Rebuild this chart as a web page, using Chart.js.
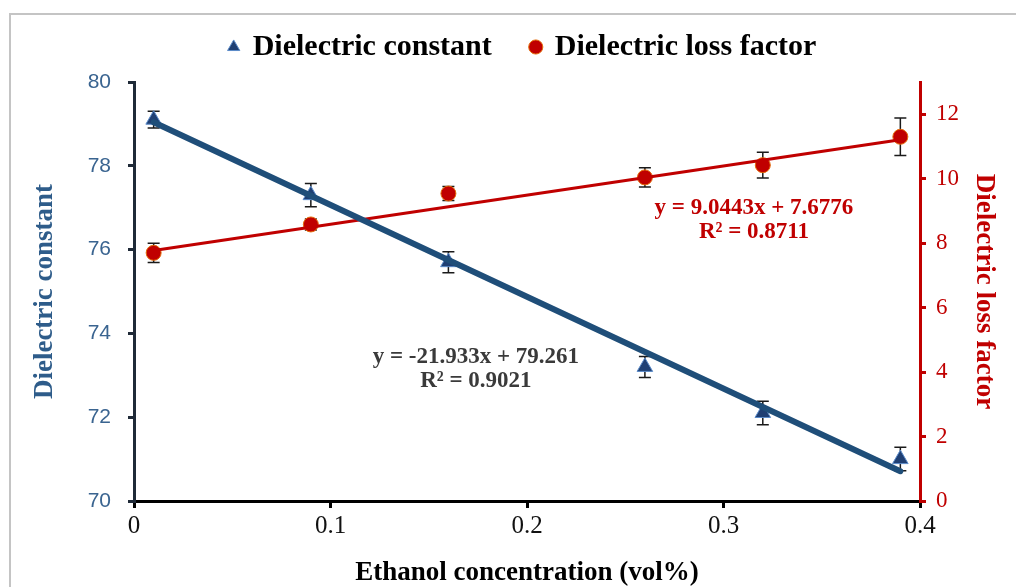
<!DOCTYPE html>
<html><head><meta charset="utf-8">
<script src="https://cdn.jsdelivr.net/npm/chart.js@4.4.1/dist/chart.umd.min.js"></script>
<style>
html,body{margin:0;padding:0;background:#fff;overflow:hidden;}
#wrap{position:relative;width:1016px;height:587px;overflow:hidden;}
#frame{position:absolute;left:9px;top:13px;width:1100px;height:700px;border:2px solid #c4c4c4;pointer-events:none;box-sizing:border-box;}
canvas{position:absolute;left:0;top:0;}
</style></head>
<body><div id="wrap"><canvas id="c" width="1016" height="587"></canvas><div id="frame"></div></div>
<script>
const concentration = [0.01, 0.09, 0.16, 0.26, 0.32, 0.39];
const dielectricConstant = [79.1, 77.3, 75.7, 73.2, 72.1, 71.0];
const dielectricConstantErr = [0.2, 0.28, 0.25, 0.25, 0.28, 0.28];
const lossFactor = [7.7, 8.58, 9.54, 10.04, 10.42, 11.3];
const lossFactorErr = [0.3, 0.17, 0.22, 0.3, 0.4, 0.58];
const trendX = [0.01, 0.39];
const constantTrend = [79.04, 70.71];
const lossTrend = [7.77, 11.21];
const xTicks = [0, 0.1, 0.2, 0.3, 0.4];
const leftTicks = [70, 72, 74, 76, 78, 80];
const rightTicks = [0, 2, 4, 6, 8, 10, 12];
const seriesNames = ['Dielectric constant', 'Dielectric loss factor'];
const constantEquation = ['y = -21.933x + 79.261', 'R\u00b2 = 0.9021'];
const lossEquation = ['y = 9.0443x + 7.6776', 'R\u00b2 = 0.8711'];
const axisTitles = ['Ethanol concentration (vol%)', 'Dielectric constant', 'Dielectric loss factor'];

const BLUE = '#1F4E79', RED = '#C00000';
const SERIF = "'Liberation Serif', 'Times New Roman', serif";
const SANS = "'Liberation Sans', Arial, sans-serif";
const pts = (xs, ys) => xs.map((x, i) => ({x: x, y: ys[i]}));

const errorBars = {
  id: 'errorBars',
  beforeDatasetsDraw(chart) {
    const c = chart.ctx, xs = chart.scales.x;
    chart.data.datasets.forEach(ds => {
      if (!ds.errors) return;
      const ys = chart.scales[ds.yAxisID];
      c.save();
      c.strokeStyle = '#1a1a1a';
      c.lineWidth = 1.5;
      ds.data.forEach((p, j) => {
        const x = xs.getPixelForValue(p.x);
        const y1 = ys.getPixelForValue(p.y + ds.errors[j]);
        const y2 = ys.getPixelForValue(p.y - ds.errors[j]);
        c.beginPath();
        c.moveTo(x, y1); c.lineTo(x, y2);
        c.moveTo(x - 6, y1); c.lineTo(x + 6, y1);
        c.moveTo(x - 6, y2); c.lineTo(x + 6, y2);
        c.stroke();
      });
      c.restore();
    });
  }
};

const equations = {
  id: 'equations',
  afterDatasetsDraw(chart) {
    const c = chart.ctx, xs = chart.scales.x, ys = chart.scales.y;
    const drawEq = (lines, xv, yv, color) => {
      const x = xs.getPixelForValue(xv), y = ys.getPixelForValue(yv);
      c.save();
      c.font = "bold 23px " + SERIF;
      c.fillStyle = color;
      c.textAlign = 'center';
      c.textBaseline = 'middle';
      c.fillText(lines[0], x, y);
      c.fillText(lines[1], x, y + 24);
      c.restore();
    };
    drawEq(constantEquation, 0.174, 73.43, '#3a3a3a');
    drawEq(lossEquation, 0.3155, 76.98, RED);
  }
};

const legendShift = {
  id: 'legendShift',
  afterLayout(chart) {
    const lg = chart.legend;
    if (lg) { lg.left += 15; lg.right += 15; lg.top -= 10; lg.bottom -= 10; }
  }
};

new Chart(document.getElementById('c'), {
  type: 'scatter',
  data: {
    datasets: [
      { label: seriesNames[0], data: pts(concentration, dielectricConstant), yAxisID: 'y',
        pointStyle: 'triangle', pointRadius: 9, pointHoverRadius: 9,
        backgroundColor: '#1F3F73', borderColor: '#5B8BC9', borderWidth: 1,
        showLine: false, order: 3, errors: dielectricConstantErr },
      { label: seriesNames[1], data: pts(concentration, lossFactor), yAxisID: 'y1',
        pointStyle: 'circle', pointRadius: 7.5, pointHoverRadius: 7.5,
        backgroundColor: RED, borderColor: '#E46C0A', borderWidth: 1,
        showLine: false, order: 3, errors: lossFactorErr },
      { label: 'trendConstant', data: pts(trendX, constantTrend), yAxisID: 'y',
        showLine: true, borderColor: BLUE, borderWidth: 6, borderCapStyle: 'round',
        pointRadius: 0, pointHoverRadius: 0, order: 0 },
      { label: 'trendLoss', data: pts(trendX, lossTrend), yAxisID: 'y1',
        showLine: true, borderColor: RED, borderWidth: 3,
        pointRadius: 0, pointHoverRadius: 0, order: 1 }
    ]
  },
  options: {
    responsive: false,
    animation: false,
    layout: { padding: { top: 2, left: 0, right: 0, bottom: 0 } },
    plugins: {
      tooltip: { enabled: false },
      legend: {
        position: 'top',
        labels: {
          filter: item => item.datasetIndex < 2,
          usePointStyle: true,
          boxWidth: 8, boxHeight: 10,
          padding: 40,
          color: '#000',
          font: { family: SERIF, size: 30, weight: 'bold' }
        }
      }
    },
    scales: {
      x: {
        type: 'linear', position: 'bottom', min: 0, max: 0.4,
        afterBuildTicks: s => { s.ticks = xTicks.map(v => ({value: v})); },
        ticks: { callback: v => String(v), color: '#111', font: { family: SERIF, size: 25 }, padding: 3, maxRotation: 0 },
        grid: { display: true, drawOnChartArea: false, drawTicks: true, tickLength: 7, color: '#000', lineWidth: 3 },
        border: { display: true, color: '#000', width: 3 },
        title: { display: true, text: axisTitles[0], color: '#000', font: { family: SERIF, size: 27, weight: 'bold' }, padding: { top: 0, bottom: -2 } },
        afterFit: s => { s.height = 86; }
      },
      y: {
        type: 'linear', position: 'left', min: 70, max: 80,
        afterBuildTicks: s => { s.ticks = leftTicks.map(v => ({value: v})); },
        ticks: { color: '#3A6490', font: { family: SANS, size: 21 }, padding: 17 },
        grid: { display: true, drawOnChartArea: false, drawTicks: true, tickLength: 6, color: '#1f2a38', lineWidth: 3 },
        border: { display: true, color: '#1f2a38', width: 3 },
        title: { display: true, text: axisTitles[1], color: '#2E5C8A', font: { family: SERIF, size: 27, weight: 'bold' }, padding: { top: 29, bottom: 0 } },
        afterFit: s => { s.width = 134; }
      },
      y1: {
        type: 'linear', position: 'right', min: 0, max: 13,
        afterBuildTicks: s => { s.ticks = rightTicks.map(v => ({value: v})); },
        ticks: { color: RED, font: { family: SERIF, size: 23 }, padding: 10 },
        grid: { display: true, drawOnChartArea: false, drawTicks: true, tickLength: 6, color: RED, lineWidth: 3 },
        border: { display: true, color: RED, width: 3 },
        title: { display: true, text: axisTitles[2], color: RED, font: { family: SERIF, size: 27, weight: 'bold' }, padding: { top: 16, bottom: 0 } },
        afterFit: s => { s.width = 96; }
      }
    }
  },
  plugins: [errorBars, equations, legendShift]
});
</script>
</body></html>
